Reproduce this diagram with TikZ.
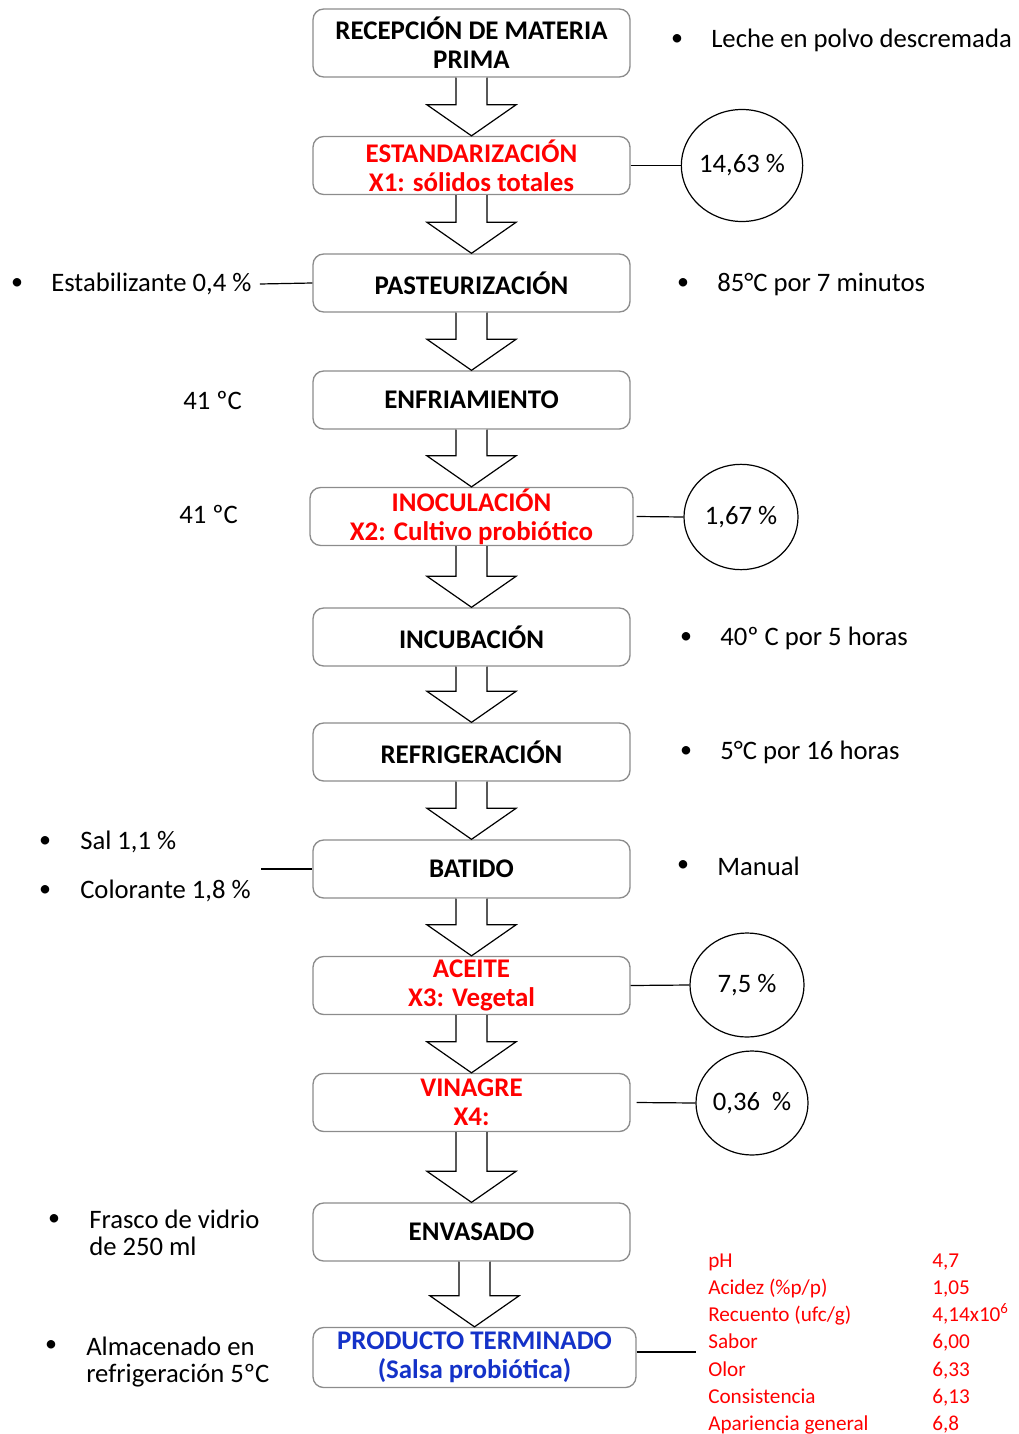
\documentclass[tikz,border=0pt]{standalone}
\usepackage{fontspec}
\setmainfont{Carlito}
\usepackage{xcolor}
\usetikzlibrary{calc,shapes.geometric}
\definecolor{azulprod}{RGB}{20,50,200}
\tikzset{
	etapa/.style={draw=black!45,line width=1pt,rounded corners=8pt,minimum width=237.75pt,minimum height=43.5pt,align=center,font=\fontsize{20.2}{21.75}\selectfont\bfseries,inner sep=0pt},%
	etapavar/.style={etapa,text=red},%
	dato/.style={draw,ellipse,line width=0.9pt,inner sep=0pt,font=\fontsize{20}{21}\selectfont},%
	nota/.style={anchor=west,inner sep=0pt,align=left,font=\fontsize{20}{20.25}\selectfont},%
	vineta/.style={inner sep=0pt,font=\fontsize{18}{20}\selectfont},%
	enlace/.style={line width=0.9pt},%
	flecha/.style={line width=0.9pt,fill=white,line join=miter},%
}
% block arrow from the bottom of one stage to the top of the next
\newcommand{\pasoa}[2]{%
	\draw[flecha] ($(#1.south -| #2.north)+(-15.5,0)$) -- ($(#2.north)+(-15.5,-31)$) -- ($(#2.north)+(-44.5,-31)$) -- (#2.north) -- ($(#2.north)+(44.5,-31)$) -- ($(#2.north)+(15.5,-31)$) -- ($(#1.south -| #2.north)+(15.5,0)$);}
\begin{document}
\begin{tikzpicture}[x=0.75pt,y=-0.75pt]
		\useasboundingbox (0,0) rectangle (1018,1434);
		% Stages {{{
		\node[etapa,minimum height=51pt] (recepcion) at (471.5,43) {RECEPCIÓN DE MATERIA\\PRIMA};
		\node[etapavar] (estandarizacion) at (471.5,165.5) {ESTANDARIZACIÓN\\X1: sólidos totales};
		\node[etapa] (pasteurizacion) at (471.5,283) {PASTEURIZACIÓN};
		\node[etapa] (enfriamiento) at (471.5,400) {ENFRIAMIENTO};
		\node[etapavar,minimum width=242.25pt] (inoculacion) at (471.5,516.5) {INOCULACIÓN\\X2: Cultivo probiótico};
		\node[etapa] (incubacion) at (471.5,637) {INCUBACIÓN};
		\node[etapa] (refrigeracion) at (471.5,752) {REFRIGERACIÓN};
		\node[etapa] (batido) at (471.5,869) {BATIDO};
		\node[etapavar] (aceite) at (471.5,985.5) {ACEITE\\X3: Vegetal};
		\node[etapavar] (vinagre) at (471.5,1102.5) {VINAGRE\\X4:};
		\node[etapa] (envasado) at (471.5,1232) {ENVASADO};
		\node[etapa,text=azulprod,minimum width=242.25pt,minimum height=45pt] (producto) at (474.5,1357.5) {PRODUCTO TERMINADO\\(Salsa probiótica)};
		% }}}
		% Arrows {{{
		\pasoa{recepcion}{estandarizacion}
		\pasoa{estandarizacion}{pasteurizacion}
		\pasoa{pasteurizacion}{enfriamiento}
		\pasoa{enfriamiento}{inoculacion}
		\pasoa{inoculacion}{incubacion}
		\pasoa{incubacion}{refrigeracion}
		\pasoa{refrigeracion}{batido}
		\pasoa{batido}{aceite}
		\pasoa{aceite}{vinagre}
		\pasoa{vinagre}{envasado}
		\pasoa{envasado}{producto}
		% }}}
		% Levels {{{
		\node[dato,minimum width=90pt,minimum height=84pt] (solidos) at (742,165.5) {14,63 \%};
		\node[dato,minimum width=85.5pt,minimum height=79pt] (cultivo) at (741,517) {1,67 \%};
		\node[dato,minimum width=85.5pt,minimum height=78pt] (vegetal) at (747,985) {7,5 \%};
		\node[dato,minimum width=84pt,minimum height=78pt] (acido) at (752,1103) {0,36~~\%};
		\draw[enlace] (estandarizacion.east) -- (solidos.west);
		\draw[enlace] (inoculacion.east) ++(3,0) -- (cultivo.west);
		\draw[enlace] (aceite.east) -- (vegetal.west);
		\draw[enlace] (vinagre.east) ++(6,0) -- (acido.west);
		% }}}
		% Right notes {{{
		\node[vineta] (v-leche) at (677,40) {•};
		\node[nota] (leche) at (711,40) {Leche en polvo descremada};
		\node[vineta] (v-pasteur) at (683,284) {•};
		\node[nota] (tiempo-pasteur) at (717,284) {85°C por 7 minutos};
		\node[vineta] (v-incub) at (686,638) {•};
		\node[nota] (tiempo-incub) at (720,638) {40º C por 5 horas};
		\node[vineta] (v-refrig) at (686,752) {•};
		\node[nota] (tiempo-refrig) at (720,752) {5°C por 16 horas};
		\node[vineta] (v-batido) at (683,866) {•};
		\node[nota] (manual) at (717,866) {Manual};
		% }}}
		% Left notes {{{
		\node[vineta] (v-estab) at (17,284) {•};
		\node[nota] (estabilizante) at (51,284) {Estabilizante 0,4 \%};
		\draw[enlace] (estabilizante.east) ++(8,0) -- (pasteurizacion.west);
		\node[nota] (temp-enfri) at (183,400) {41 ºC};
		\node[nota] (temp-inocul) at (179,514) {41 ºC};
		\node[vineta] (v-sal) at (45,842) {•};
		\node[nota] (sal) at (80,842) {Sal 1,1 \%};
		\node[vineta] (v-color) at (45,891) {•};
		\node[nota] (colorante) at (80,891) {Colorante 1,8 \%};
		\coordinate (aditivos) at (261,869);
		\draw[enlace] (aditivos) -- (batido.west);
		\node[vineta] (v-frasco) at (54,1220) {•};
		\node[nota,anchor=north west] (frasco) at (89,1210) {Frasco de vidrio\\de 250 ml};
		\node[vineta] (v-almacen) at (51,1346) {•};
		\node[nota,anchor=north west] (almacen) at (86,1337) {Almacenado en\\refrigeración 5ºC};
		% }}}
		% Final analysis {{{
		\node[anchor=north west,inner sep=0pt,text=red,font=\fontsize{15.9}{20.4}\selectfont] (analisis) at (708,1248) {%
			\begin{tabular}{@{}p{168pt}@{}l@{}}
			pH & 4,7\\
			Acidez (\%p/p) & 1,05\\
			Recuento (ufc/g) & 4,14x10\textsuperscript{6}\\
			Sabor & 6,00\\
			Olor & 6,33\\
			Consistencia & 6,13\\
			Apariencia general & 6,8
			\end{tabular}};
		\coordinate (tabla) at (696,1352);
		\draw[enlace] (producto.east |- tabla) -- (tabla);
		% }}}
	\end{tikzpicture}
\end{document}
